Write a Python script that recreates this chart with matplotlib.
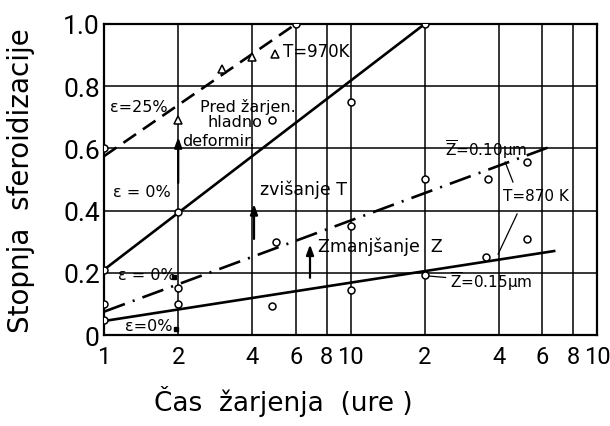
import numpy as np
import matplotlib
matplotlib.use("Agg")
from matplotlib import pyplot as plt

plt.rcParams['font.family'] = ['DejaVu Sans']
plt.rcParams['lines.scale_dashes'] = False
plt.rcParams['mathtext.fontset'] = 'dejavusans'

# ------------------------------------------------------------------
# values (time in hours, log axis)
# ------------------------------------------------------------------
xticks = [1, 2, 4, 6, 8, 10, 20, 40, 60, 80, 100]
xtick_labels = ["1", "2", "4", "6", "8", "10", "2", "4", "6", "8", "10"]
yticks = [0, 0.2, 0.4, 0.6, 0.8, 1.0]
ytick_labels = ["0", "0.2", "0.4", "0.6", "0.8", "1.0"]

# T = 970 K, cold deformed 25 %  (dashed)
line25_x = [1, 6]
line25_y = [0.575, 1.0]
tri25_x = [2, 3, 4]
tri25_y = [0.69, 0.855, 0.895]
circ25_x = [1, 6]
circ25_y = [0.60, 1.0]

# T = 970 K, 0 %  (solid, upper)
line970_x = [1, 20]
line970_y = [0.21, 1.0]
circ970_x = [1, 2, 4.8, 10, 20]
circ970_y = [0.21, 0.395, 0.69, 0.75, 1.0]

# T = 870 K, Z = 0.10 um (dash-dot)
line010_x = [1, 67]
line010_y = [0.075, 0.61]
circ010_x = [1, 2, 5, 10, 20, 36, 52]
circ010_y = [0.10, 0.15, 0.30, 0.35, 0.50, 0.50, 0.555]

# T = 870 K, Z = 0.15 um (solid, lower)
line015_x = [1, 67]
line015_y = [0.045, 0.27]
circ015_x = [1, 2, 4.8, 10, 20, 35.5, 52]
circ015_y = [0.048, 0.10, 0.093, 0.145, 0.193, 0.25, 0.31]

# filled squares after the eps = 0 % labels
sq_x = [1.92, 1.96]
sq_y = [0.186, 0.019]

fig = plt.figure(figsize=(6.1, 4.27), dpi=100)
ax = fig.add_axes([0.1705, 0.2131, 0.8082, 0.7284])
ax.set_xscale("log")
ax.set_xlim(1, 100)
ax.set_ylim(0, 1.0)

# grid
for xv in xticks[1:-1]:
    ax.axvline(xv, color="k", lw=1.1, zorder=1)
for yv in yticks[1:-1]:
    ax.axhline(yv, color="k", lw=1.1, zorder=1)
for sp in ax.spines.values():
    sp.set_linewidth(1.6)

ax.set_xticks(xticks)
ax.set_xticklabels(xtick_labels, fontsize=17, family="Roboto")
ax.xaxis.set_minor_locator(matplotlib.ticker.NullLocator())
ax.set_yticks(yticks)
ax.set_yticklabels(ytick_labels, fontsize=19, family="Roboto")
ax.tick_params(length=0)
ax.tick_params(axis="y", pad=3)
ax.tick_params(axis="x", pad=7)

mk = dict(marker="o", ms=5, mfc="white", mec="k", mew=1.1, ls="none", zorder=4)

ax.plot(line25_x, line25_y, color="k", lw=1.9, dashes=(11, 6), zorder=3)
ax.plot(tri25_x, tri25_y, marker="^", ms=6, mfc="white", mec="k", mew=1.1,
        ls="none", zorder=4)
ax.plot(circ25_x, circ25_y, **mk)

ax.plot(line970_x, line970_y, color="k", lw=1.9, zorder=3)
ax.plot(circ970_x, circ970_y, **mk)

ax.plot(line010_x, line010_y, color="k", lw=1.9, dashes=(16, 6, 1.5, 6), zorder=3)
ax.plot(circ010_x, circ010_y, **mk)

ax.plot(line015_x, line015_y, color="k", lw=1.9, zorder=3)
ax.plot(circ015_x, circ015_y, **mk)

ax.plot(sq_x, sq_y, marker="s", ms=3.5, color="k", ls="none", zorder=4)

# legend triangle for T = 970 K
ax.plot([4.94], [0.904], marker="^", ms=6, mfc="white", mec="k", mew=1.1, ls="none")

# arrows
arr = dict(arrowstyle="-|>,head_width=0.22,head_length=0.6", color="k", lw=1.6)
ax.annotate("", xy=(2, 0.645), xytext=(2, 0.48), arrowprops=arr)
ax.annotate("", xy=(4.06, 0.43), xytext=(4.06, 0.30), arrowprops=arr)
ax.annotate("", xy=(6.85, 0.30), xytext=(6.85, 0.175), arrowprops=arr)

# leader lines
ax.plot([42.4, 45.6], [0.556, 0.492], color="k", lw=0.9)
ax.plot([47.4, 39.7], [0.389, 0.26], color="k", lw=0.9)
ax.plot([20.5, 24.3], [0.19, 0.185], color="k", lw=0.9)

fs = 11.5
ax.text(1.057, 0.736, "ε=25%", fontsize=fs, va="center")
ax.text(2.45, 0.736, "Pred žarjen.", fontsize=fs, va="center")
ax.text(2.62, 0.688, "hladno", fontsize=fs, va="center")
ax.text(2.07, 0.624, "deformir.", fontsize=fs, va="center")
ax.text(5.32, 0.913, "T=970K", fontsize=12, va="center")
ax.text(1.088, 0.46, "ε = 0%", fontsize=fs, va="center")
ax.text(4.29, 0.469, "zvišanje T", fontsize=12.5, va="center")
ax.text(1.14, 0.196, "ε = 0%", fontsize=fs, va="center")
ax.text(1.22, 0.029, "ε=0%", fontsize=fs, va="center")
ax.text(7.38, 0.286, "Zmanjšanje  Z", fontsize=12.5, va="center")
ax.text(24.2, 0.598, r"$\overline{\mathrm{Z}}$=0.10μm", fontsize=11, va="center")
ax.text(41.6, 0.447, "T=870 K", fontsize=11, va="center")
ax.text(25.3, 0.174, r"$\overline{\mathrm{Z}}$=0.15μm", fontsize=11, va="center")

ax.set_ylabel("Stopnja  sferoidizacije", fontsize=20)
ax.yaxis.set_label_coords(-0.14, 0.5)
ax.text(0.363, -0.212, "Čas  žarjenja  (ure )", fontsize=19,
        transform=ax.transAxes, ha="center", va="center")

plt.savefig("out.png", dpi=100)
